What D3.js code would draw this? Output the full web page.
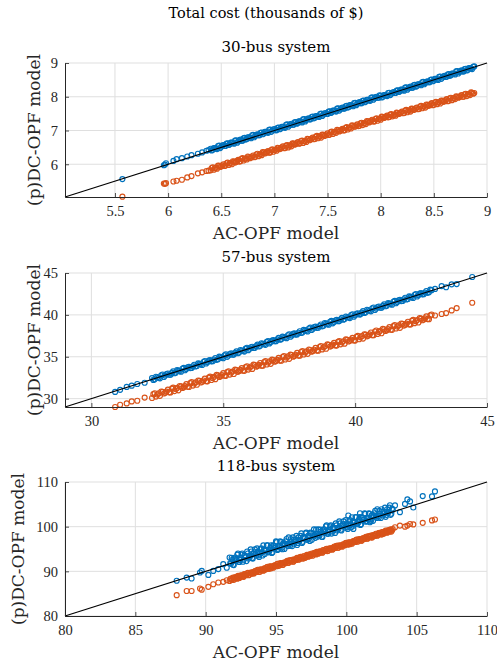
<!DOCTYPE html>
<html>
<head>
<meta charset="utf-8">
<script src="https://cdn.jsdelivr.net/npm/d3@7"></script>
<style>
  body { margin: 0; background: #fff; }
  .js-container { width: 497px; height: 667px; }
</style>
</head>
<body>
<div class="js-container"></div>
<script>
;(function() {
  'use strict';

  // ---- data: total cost in thousands of $, one point per load sample ----

  // 30-bus system
  var ac30 = [5.57,5.96,5.97,5.98,6.05,6.08,6.13,6.18,6.22,6.28,6.32,6.36,6.38,
    6.40,6.42,6.44,6.46,6.48,6.50,6.52,6.54,6.56,6.58,6.60,6.62,6.64,6.66,6.68,6.70,6.72,6.74,6.76,6.78,
    6.80,6.82,6.84,6.86,6.88,6.90,6.92,6.94,6.96,6.98,7.00,7.02,7.04,7.06,7.08,7.10,7.12,7.14,7.16,7.18,
    7.20,7.22,7.24,7.26,7.28,7.30,7.32,7.34,7.36,7.38,7.40,7.42,7.44,7.46,7.48,7.50,7.52,7.54,7.56,7.58,
    7.60,7.62,7.64,7.66,7.68,7.70,7.72,7.74,7.76,7.78,7.80,7.82,7.84,7.86,7.88,7.90,7.92,7.94,7.96,7.98,
    8.00,8.02,8.04,8.06,8.08,8.10,8.12,8.14,8.16,8.18,8.20,8.22,8.24,8.26,8.28,8.30,8.32,8.34,8.36,8.38,
    8.40,8.42,8.44,8.46,8.48,8.50,8.52,8.54,8.56,8.58,8.60,8.62,8.64,8.66,8.68,8.70,8.72,8.74,8.76,8.78,
    8.80,8.82,8.84,8.86,8.88,
    6.41,6.43,6.45,6.47,6.49,6.51,6.53,6.55,6.57,6.59,6.61,6.63,6.65,6.67,6.69,6.71,6.73,6.75,6.77,6.79,
    6.81,6.83,6.85,6.87,6.89,6.91,6.93,6.95,6.97,6.99,7.01,7.03,7.05,7.07,7.09,7.11,7.13,7.15,7.17,7.19,
    7.21,7.23,7.25,7.27,7.29,7.31,7.33,7.35,7.37,7.39,7.41,7.43,7.45,7.47,7.49,7.51,7.53,7.55,7.57,7.59,
    7.61,7.63,7.65,7.67,7.69,7.71,7.73,7.75,7.77,7.79,7.81,7.83,7.85,7.87,7.89,7.91,7.93,7.95,7.97,7.99,
    8.01,8.03,8.05,8.07,8.09,8.11,8.13,8.15,8.17,8.19,8.21,8.23,8.25,8.27,8.29,8.31,8.33,8.35,8.37,8.39,
    8.41,8.43,8.45,8.47,8.49,8.51,8.53,8.55,8.57,8.59,8.61,8.63,8.65,8.67,8.69,8.71,8.73,8.75,8.77,8.79,
    8.81,8.83,8.85,8.87];
  var pdc30 = [5.56,5.97,5.99,6.03,6.10,6.15,6.18,6.23,6.27,6.31,6.35,6.40,6.42,
    6.46,6.43,6.48,6.45,6.55,6.52,6.57,6.54,6.62,6.59,6.64,6.61,6.71,6.68,6.73,6.70,6.78,6.75,6.80,6.77,
    6.87,6.84,6.89,6.86,6.94,6.91,6.96,6.93,7.03,7.00,7.04,7.01,7.09,7.06,7.11,7.08,7.18,7.15,7.20,7.17,
    7.25,7.22,7.27,7.24,7.34,7.31,7.36,7.33,7.41,7.38,7.43,7.40,7.50,7.47,7.52,7.49,7.57,7.54,7.59,7.56,
    7.66,7.63,7.68,7.65,7.73,7.70,7.75,7.72,7.82,7.79,7.84,7.81,7.89,7.86,7.91,7.88,7.98,7.95,8.00,7.97,
    8.03,8.00,8.05,8.02,8.12,8.09,8.14,8.11,8.19,8.16,8.21,8.18,8.28,8.25,8.30,8.27,8.35,8.32,8.37,8.34,
    8.44,8.41,8.46,8.43,8.51,8.48,8.53,8.50,8.60,8.57,8.62,8.59,8.67,8.64,8.69,8.66,8.76,8.73,8.78,8.75,
    8.83,8.80,8.85,8.82,8.90,
    6.41,6.48,6.47,6.54,6.48,6.55,6.54,6.61,6.57,6.64,6.63,6.70,6.64,6.71,6.70,6.77,6.73,6.80,6.79,6.86,
    6.80,6.87,6.86,6.93,6.89,6.96,6.95,7.02,6.96,7.03,7.01,7.08,7.04,7.11,7.10,7.17,7.11,7.18,7.17,7.24,
    7.20,7.27,7.26,7.33,7.27,7.34,7.33,7.40,7.36,7.43,7.42,7.49,7.43,7.50,7.49,7.56,7.52,7.59,7.58,7.65,
    7.59,7.66,7.65,7.72,7.68,7.75,7.74,7.81,7.75,7.82,7.81,7.88,7.84,7.91,7.90,7.97,7.91,7.98,7.97,8.04,
    7.98,8.05,8.04,8.11,8.05,8.12,8.11,8.18,8.14,8.21,8.20,8.27,8.21,8.28,8.27,8.34,8.30,8.37,8.36,8.43,
    8.37,8.44,8.43,8.50,8.46,8.53,8.52,8.59,8.53,8.60,8.59,8.66,8.62,8.69,8.68,8.75,8.69,8.76,8.75,8.82,
    8.78,8.85,8.84,8.89];
  var dc30 = [5.04,5.43,5.42,5.44,5.49,5.51,5.54,5.61,5.65,5.73,5.76,5.80,5.81,
    5.82,5.91,5.89,5.87,5.95,5.94,6.00,5.96,6.05,6.03,6.00,6.08,6.07,6.13,6.09,6.18,6.16,6.14,6.21,6.20,
    6.26,6.22,6.31,6.29,6.27,6.35,6.34,6.39,6.35,6.44,6.42,6.40,6.48,6.47,6.53,6.48,6.57,6.55,6.53,6.61,
    6.60,6.66,6.62,6.70,6.68,6.66,6.74,6.73,6.79,6.75,6.84,6.82,6.79,6.87,6.86,6.92,6.88,6.97,6.95,6.93,
    7.00,6.99,7.05,7.01,7.10,7.08,7.06,7.14,7.12,7.18,7.14,7.23,7.21,7.19,7.27,7.26,7.32,7.27,7.36,7.34,
    7.32,7.40,7.39,7.44,7.40,7.49,7.46,7.44,7.52,7.51,7.56,7.52,7.61,7.59,7.56,7.64,7.63,7.68,7.64,7.73,
    7.71,7.68,7.76,7.75,7.81,7.76,7.85,7.83,7.80,7.88,7.87,7.93,7.88,7.97,7.95,7.93,8.00,7.99,8.05,8.00,
    8.09,8.07,8.05,8.12,8.11,
    5.89,5.84,5.90,5.96,5.92,5.97,5.95,6.03,5.98,6.04,6.09,6.05,6.10,6.08,6.16,6.11,6.17,6.23,6.18,6.23,
    6.21,6.29,6.24,6.30,6.36,6.32,6.37,6.34,6.42,6.37,6.43,6.49,6.45,6.50,6.48,6.55,6.50,6.56,6.62,6.58,
    6.63,6.61,6.69,6.63,6.69,6.75,6.71,6.76,6.74,6.82,6.77,6.83,6.88,6.84,6.89,6.87,6.95,6.90,6.96,7.02,
    6.97,7.02,7.00,7.08,7.03,7.09,7.15,7.11,7.15,7.13,7.21,7.16,7.22,7.28,7.24,7.29,7.27,7.34,7.29,7.35,
    7.41,7.37,7.41,7.39,7.47,7.42,7.47,7.53,7.49,7.53,7.51,7.59,7.54,7.59,7.65,7.61,7.66,7.63,7.71,7.66,
    7.71,7.77,7.73,7.78,7.75,7.83,7.78,7.84,7.89,7.85,7.90,7.87,7.95,7.90,7.96,8.01,7.97,8.02,8.00,8.07,
    8.02,8.08,8.13,8.09];

  // 57-bus system
  var ac57 = [30.9,31.09,31.34,31.53,31.74,32.02,
    32.3,32.4,32.5,32.6,32.7,32.8,32.9,33.0,33.1,33.2,33.3,33.4,33.5,33.6,33.7,33.8,33.9,34.0,34.1,34.2,
    34.3,34.4,34.5,34.6,34.7,34.8,34.9,35.0,35.1,35.2,35.3,35.4,35.5,35.6,35.7,35.8,35.9,36.0,36.1,36.2,
    36.3,36.4,36.5,36.6,36.7,36.8,36.9,37.0,37.1,37.2,37.3,37.4,37.5,37.6,37.7,37.8,37.9,38.0,38.1,38.2,
    38.3,38.4,38.5,38.6,38.7,38.8,38.9,39.0,39.1,39.2,39.3,39.4,39.5,39.6,39.7,39.8,39.9,40.0,40.1,40.2,
    40.3,40.4,40.5,40.6,40.7,40.8,40.9,41.0,41.1,41.2,41.3,41.4,41.5,41.6,41.7,41.8,41.9,42.0,42.1,42.2,
    42.3,42.4,42.5,42.6,42.7,42.8,42.9,
    43.03,43.28,43.45,43.66,43.85,44.44,
    32.35,32.45,32.55,32.65,32.75,32.85,32.95,33.05,33.15,33.25,33.35,33.45,33.55,33.65,33.75,33.85,33.95,34.05,34.15,34.25,
    34.35,34.45,34.55,34.65,34.75,34.85,34.95,35.05,35.15,35.25,35.35,35.45,35.55,35.65,35.75,35.85,35.95,36.05,36.15,36.25,
    36.35,36.45,36.55,36.65,36.75,36.85,36.95,37.05,37.15,37.25,37.35,37.45,37.55,37.65,37.75,37.85,37.95,38.05,38.15,38.25,
    38.35,38.45,38.55,38.65,38.75,38.85,38.95,39.05,39.15,39.25,39.35,39.45,39.55,39.65,39.75,39.85,39.95,40.05,40.15,40.25,
    40.35,40.45,40.55,40.65,40.75,40.85,40.95,41.05,41.15,41.25,41.35,41.45,41.55,41.65,41.75,41.85,41.95,42.05,42.15,42.25,
    42.35,42.45,42.55,42.65,42.75,42.85];
  var pdc57 = [30.8,31.05,31.4,31.55,31.75,31.9,
    32.45,32.30,32.55,32.42,32.88,32.75,33.00,32.86,33.25,33.10,33.35,33.22,33.68,33.55,33.80,33.66,34.05,33.90,34.15,34.02,
    34.48,34.35,34.60,34.46,34.85,34.70,34.95,34.82,35.28,35.15,35.40,35.26,35.65,35.50,35.75,35.62,36.08,35.95,36.20,36.06,
    36.45,36.30,36.55,36.42,36.88,36.75,37.00,36.86,37.25,37.10,37.35,37.22,37.68,37.55,37.80,37.66,38.05,37.90,38.15,38.02,
    38.48,38.35,38.60,38.46,38.85,38.70,38.95,38.82,39.28,39.15,39.40,39.26,39.65,39.50,39.75,39.62,40.08,39.95,40.20,40.06,
    40.45,40.30,40.55,40.42,40.88,40.75,41.00,40.86,41.25,41.10,41.35,41.22,41.68,41.55,41.80,41.66,42.05,41.90,42.15,42.02,
    42.48,42.35,42.60,42.46,42.85,42.70,42.95,
    43.1,43.44,43.3,43.65,43.68,44.52,
    32.23,32.61,32.49,32.77,32.59,32.93,32.85,33.07,33.03,33.41,33.29,33.57,33.39,33.73,33.65,33.87,33.83,34.21,34.09,34.37,
    34.19,34.53,34.45,34.67,34.63,35.01,34.89,35.17,34.99,35.33,35.25,35.47,35.43,35.81,35.69,35.97,35.79,36.13,36.05,36.27,
    36.23,36.61,36.49,36.77,36.59,36.93,36.85,37.07,37.03,37.41,37.29,37.57,37.39,37.73,37.65,37.87,37.83,38.21,38.09,38.37,
    38.19,38.53,38.45,38.67,38.63,39.01,38.89,39.17,38.99,39.33,39.25,39.47,39.43,39.81,39.69,39.97,39.79,40.13,40.05,40.27,
    40.23,40.61,40.49,40.77,40.59,40.93,40.85,41.07,41.03,41.41,41.29,41.57,41.39,41.73,41.65,41.87,41.83,42.21,42.09,42.37,
    42.19,42.53,42.45,42.67,42.63,43.01];
  var dc57 = [29.0,29.27,29.43,29.67,29.75,30.12,
    30.08,30.64,30.49,30.33,30.80,30.69,31.07,30.74,31.31,31.15,30.99,31.46,31.35,31.73,31.40,31.97,31.81,31.66,32.12,32.01,
    32.39,32.06,32.63,32.47,32.32,32.78,32.67,33.05,32.72,33.27,33.11,32.94,33.40,33.29,33.65,33.32,33.87,33.71,33.55,34.00,
    33.89,34.25,33.92,34.48,34.31,34.15,34.60,34.49,34.86,34.52,35.08,34.91,34.75,35.21,35.09,35.46,35.12,35.68,35.52,35.35,
    35.81,35.69,36.06,35.73,36.28,36.12,35.95,36.41,36.30,36.66,36.33,36.88,36.72,36.56,37.01,36.90,37.26,36.93,37.49,37.33,
    37.17,37.64,37.53,37.90,37.57,38.13,37.97,37.81,38.28,38.17,38.54,38.21,38.77,38.61,38.45,38.92,38.81,39.18,38.85,39.41,
    39.25,39.09,39.56,39.45,39.82,39.49,40.05,
    39.93,40.1,40.21,40.53,40.81,41.45,
    30.53,30.24,30.62,30.85,30.61,30.84,30.75,31.19,30.90,31.28,31.51,31.27,31.50,31.42,31.85,31.56,31.94,32.17,31.93,32.16,
    32.08,32.51,32.22,32.60,32.83,32.59,32.82,32.73,33.16,32.87,33.23,33.46,33.20,33.43,33.34,33.76,33.47,33.83,34.06,33.81,
    34.03,33.94,34.36,34.07,34.44,34.66,34.41,34.63,34.54,34.97,34.67,35.04,35.26,35.01,35.24,35.14,35.57,35.27,35.64,35.87,
    35.61,35.84,35.74,36.17,35.88,36.24,36.47,36.21,36.44,36.35,36.77,36.48,36.84,37.07,36.82,37.04,36.95,37.38,37.09,37.46,
    37.69,37.44,37.67,37.58,38.02,37.73,38.10,38.33,38.08,38.31,38.22,38.66,38.37,38.74,38.97,38.72,38.95,38.86,39.30,39.01,
    39.38,39.61,39.36,39.59,39.50,39.94];

  // 118-bus system
  var ac118 = [87.94,88.65,89.0,89.6,89.72,90.19,90.54,90.9,91.25,91.5,
    91.7,91.8,91.9,92.0,92.1,92.2,92.3,92.4,92.5,92.6,92.7,92.8,92.9,93.0,93.1,93.2,93.3,93.4,93.5,93.6,
    93.7,93.8,93.9,94.0,94.1,94.2,94.3,94.4,94.5,94.6,94.7,94.8,94.9,95.0,95.1,95.2,95.3,95.4,95.5,95.6,
    95.7,95.8,95.9,96.0,96.1,96.2,96.3,96.4,96.5,96.6,96.7,96.8,96.9,97.0,97.1,97.2,97.3,97.4,97.5,97.6,
    97.7,97.8,97.9,98.0,98.1,98.2,98.3,98.4,98.5,98.6,98.7,98.8,98.9,99.0,99.1,99.2,99.3,99.4,99.5,99.6,
    99.7,99.8,99.9,100.0,100.1,100.2,100.3,100.4,100.5,100.6,100.7,100.8,100.9,101.0,101.1,101.2,101.3,101.4,101.5,101.6,
    101.7,101.8,101.9,102.0,102.1,102.2,102.3,102.4,102.5,102.6,102.7,102.8,102.9,103.0,103.1,103.2,103.3,
    100.14,100.5,100.97,101.68,
    103.46,103.81,104.17,104.34,104.53,104.76,105.43,106.09,106.3,
    91.75,91.85,91.95,92.05,92.15,92.25,92.35,92.45,92.55,92.65,92.75,92.85,92.95,93.05,93.15,93.25,93.35,93.45,93.55,93.65,
    93.75,93.85,93.95,94.05,94.15,94.25,94.35,94.45,94.55,94.65,94.75,94.85,94.95,95.05,95.15,95.25,95.35,95.45,95.55,95.65,
    95.75,95.85,95.95,96.05,96.15,96.25,96.35,96.45,96.55,96.65,96.75,96.85,96.95,97.05,97.15,97.25,97.35,97.45,97.55,97.65,
    97.75,97.85,97.95,98.05,98.15,98.25,98.35,98.45,98.55,98.65,98.75,98.85,98.95,99.05,99.15,99.25,99.35,99.45,99.55,99.65,
    99.75,99.85,99.95,100.05,100.15,100.25,100.35,100.45,100.55,100.65,100.75,100.85,100.95,101.05,101.15,101.25,101.35,101.45,101.55,101.65,
    101.75,101.85,101.95,102.05,102.15,102.25,102.35,102.45,102.55,102.65,102.75,102.85,102.95,103.05,103.15,103.25];
  var pdc118 = [87.9,88.6,88.4,89.74,90.1,89.2,90.1,90.5,91.6,90.8,
    93.1,91.7,92.6,91.4,93.1,92.5,94.0,92.1,93.0,94.0,92.6,93.5,92.3,94.0,93.4,94.9,93.0,93.9,94.9,93.5,
    94.4,93.2,94.9,94.3,95.8,93.9,94.8,95.8,94.4,95.3,94.1,95.8,95.2,96.7,94.8,95.7,96.7,95.3,96.2,95.0,
    96.7,96.1,97.6,95.7,96.6,97.6,96.2,97.1,95.9,97.6,97.0,98.5,96.6,97.5,98.5,97.1,98.0,96.8,98.5,97.9,
    99.4,97.5,98.4,99.4,98.0,98.9,97.7,99.4,98.8,100.3,98.4,99.3,100.3,98.9,99.8,98.6,100.3,99.7,101.2,99.3,
    100.2,101.2,99.8,100.7,99.5,101.2,100.6,102.1,100.2,101.1,102.1,100.7,101.6,100.4,102.1,101.5,103.0,101.1,102.0,103.0,
    101.6,102.5,101.3,103.0,102.4,103.9,102.0,102.9,103.9,102.5,103.4,102.2,103.9,103.3,104.8,102.9,103.8,
    102.5,99.5,103.0,101.0,
    104.76,103.25,105.1,106.1,105.65,104.3,106.85,106.78,107.9,
    91.85,93.05,91.45,92.85,92.45,93.75,92.15,92.55,93.75,92.15,93.55,93.15,94.45,92.85,93.25,94.45,92.85,94.25,93.85,95.15,
    93.55,93.95,95.15,93.55,94.95,94.55,95.85,94.25,94.65,95.85,94.25,95.65,95.25,96.55,94.95,95.35,96.55,94.95,96.35,95.95,
    97.25,95.65,96.05,97.25,95.65,97.05,96.65,97.95,96.35,96.75,97.95,96.35,97.75,97.35,98.65,97.05,97.45,98.65,97.05,98.45,
    98.05,99.35,97.75,98.15,99.35,97.75,99.15,98.75,100.05,98.45,98.85,100.05,98.45,99.85,99.45,100.75,99.15,99.55,100.75,99.15,
    100.55,100.15,101.45,99.85,100.25,101.45,99.85,101.25,100.85,102.15,100.55,100.95,102.15,100.55,101.95,101.55,102.85,101.25,101.65,102.85,
    101.25,102.65,102.25,103.55,101.95,102.35,103.55,101.95,103.35,102.95,104.25,102.65,103.05,104.25,102.65,104.05];
  var dc118 = [84.66,85.6,85.6,86.15,85.9,86.53,87.1,87.5,87.65,88.0,
    87.86,88.40,88.30,88.10,88.64,88.49,88.97,88.53,89.08,88.98,88.77,89.32,89.16,89.64,89.21,89.75,89.65,89.45,89.99,89.84,
    90.32,89.88,90.43,90.33,90.12,90.67,90.52,90.99,90.56,91.11,91.00,90.80,91.34,91.19,91.67,91.23,91.78,91.68,91.47,92.02,
    91.87,92.34,91.91,92.46,92.35,92.15,92.70,92.54,93.02,92.59,93.13,93.03,92.82,93.37,93.22,93.69,93.26,93.81,93.70,93.50,
    94.05,93.89,94.37,93.94,94.48,94.38,94.18,94.72,94.57,95.05,94.61,95.16,95.05,94.85,95.40,95.24,95.72,95.29,95.83,95.73,
    95.53,96.07,95.92,96.40,95.96,96.51,96.41,96.20,96.75,96.60,97.07,96.64,97.18,97.08,96.88,97.42,97.27,97.75,97.31,97.86,
    97.76,97.55,98.10,97.95,98.42,97.99,98.54,98.43,98.23,98.78,98.62,99.10,98.66,99.21,99.11,98.90,99.45,
    96.25,96.6,97.0,97.75,
    99.87,100.25,100.0,100.25,100.6,100.5,100.85,101.4,101.6,
    88.27,88.07,88.60,88.39,88.74,88.36,88.78,88.73,89.05,88.84,89.37,89.17,89.51,89.13,89.56,89.50,89.82,89.62,90.14,89.94,
    90.28,89.90,90.33,90.27,90.59,90.39,90.91,90.71,91.06,90.67,91.10,91.05,91.36,91.16,91.69,91.48,91.83,91.44,91.87,91.82,
    92.13,91.93,92.46,92.25,92.60,92.22,92.64,92.59,92.91,92.70,93.23,93.03,93.37,92.99,93.42,93.36,93.68,93.48,94.00,93.80,
    94.14,93.76,94.19,94.13,94.45,94.25,94.77,94.57,94.92,94.53,94.96,94.91,95.22,95.02,95.55,95.34,95.69,95.31,95.73,95.68,
    95.99,95.79,96.32,96.11,96.46,96.08,96.50,96.45,96.77,96.56,97.09,96.89,97.23,96.85,97.28,97.22,97.54,97.34,97.86,97.66,
    98.00,97.62,98.05,97.99,98.31,98.11,98.63,98.43,98.78,98.39,98.82,98.77,99.08,98.88,99.41,99.20];

  var titles = ['30-bus system', '57-bus system', '118-bus system'];
  var limits30 = [5.03, 9], limits57 = [29, 45], limits118 = [80, 110];
  var xTicks30 = [5.5, 6, 6.5, 7, 7.5, 8, 8.5, 9], yTicks30 = [6, 7, 8, 9];
  var xTicks57 = [30, 35, 40, 45], yTicks57 = [30, 35, 40, 45];
  var xTicks118 = [80, 85, 90, 95, 100, 105, 110], yTicks118 = [80, 90, 100, 110];

  // ---- layout ----
  var W = 497, H = 667;
  var plotL = 65, plotR = 487, plotH = 134;
  var tops = [63, 273, 482];
  var yLabelX = [40, 40, 24];
  var blue = '#0072BD', orange = '#D95319', ink = '#262626', gridColor = '#dfdfdf';
  var labelFont = '"DejaVu Serif", serif', tickFont = '"Liberation Serif", serif';

  var panels = [
    { title: titles[0], ac: ac30, pdc: pdc30, dc: dc30, lim: limits30, xt: xTicks30, yt: yTicks30 },
    { title: titles[1], ac: ac57, pdc: pdc57, dc: dc57, lim: limits57, xt: xTicks57, yt: yTicks57 },
    { title: titles[2], ac: ac118, pdc: pdc118, dc: dc118, lim: limits118, xt: xTicks118, yt: yTicks118 }
  ];

  var svg = d3.select('.js-container').append('svg')
      .attr('width', W)
      .attr('height', H);

  svg.append('text')
      .attr('x', 266)
      .attr('y', 18)
      .attr('text-anchor', 'middle')
      .style('font-family', labelFont)
      .style('font-size', '14.5px')
      .attr('fill', '#000')
      .text('Total cost (thousands of $)');

  panels.forEach(function(p, i) {
    drawPanel(p, tops[i], yLabelX[i]);
  });

  /**
   * Draws one scatter panel: grid, both series, the y = x reference line,
   * axes and texts. top is the y pixel of the plot area's upper edge.
   */
  function drawPanel(p, top, labelX) {
    var bottom = top + plotH;
    var x = d3.scaleLinear().domain(p.lim).range([plotL, plotR]);
    var y = d3.scaleLinear().domain(p.lim).range([bottom, top]);
    var g = svg.append('g');

    // grid
    g.append('g').selectAll('line').data(p.xt).enter().append('line')
        .attr('x1', function(d) { return x(d); })
        .attr('x2', function(d) { return x(d); })
        .attr('y1', top).attr('y2', bottom)
        .attr('stroke', gridColor).attr('stroke-width', 1);
    g.append('g').selectAll('line').data(p.yt).enter().append('line')
        .attr('y1', function(d) { return y(d); })
        .attr('y2', function(d) { return y(d); })
        .attr('x1', plotL).attr('x2', plotR)
        .attr('stroke', gridColor).attr('stroke-width', 1);

    // series: pDC (blue) first, DC (orange) on top
    drawSeries(g, d3.zip(p.ac, p.pdc), x, y, blue);
    drawSeries(g, d3.zip(p.ac, p.dc), x, y, orange);

    // y = x reference
    g.append('line')
        .attr('x1', x(p.lim[0])).attr('y1', y(p.lim[0]))
        .attr('x2', x(p.lim[1])).attr('y2', y(p.lim[1]))
        .attr('stroke', '#000').attr('stroke-width', 1.1);

    // axes
    var xAxis = g.append('g')
        .attr('transform', 'translate(0,' + bottom + ')')
        .call(d3.axisBottom(x).tickValues(p.xt).tickSizeInner(-4).tickSizeOuter(0)
          .tickFormat(d3.format('')));
    var yAxis = g.append('g')
        .attr('transform', 'translate(' + plotL + ',0)')
        .call(d3.axisLeft(y).tickValues(p.yt).tickSizeInner(-4).tickSizeOuter(0)
          .tickFormat(d3.format('')));

    [xAxis, yAxis].forEach(function(a) {
      a.attr('font-family', null).attr('font-size', null);
      a.select('.domain').attr('stroke', ink).attr('stroke-width', 1);
      a.selectAll('.tick line').attr('stroke', ink).attr('stroke-width', 0.8);
      a.selectAll('.tick text')
          .attr('fill', ink)
          .style('font-family', tickFont)
          .style('font-size', '14.5px');
    });
    xAxis.selectAll('.tick text').attr('y', 19).attr('dy', null);
    yAxis.selectAll('.tick text').attr('x', -7).attr('dy', '0.33em');

    // texts
    g.append('text')
        .attr('x', (plotL + plotR) / 2)
        .attr('y', top - 11)
        .attr('text-anchor', 'middle')
        .style('font-family', labelFont)
        .style('font-size', '15px')
        .attr('fill', '#000')
        .text(p.title);

    g.append('text')
        .attr('x', (plotL + plotR) / 2)
        .attr('y', bottom + 42)
        .attr('text-anchor', 'middle')
        .style('font-family', labelFont)
        .style('font-size', '17px')
        .attr('fill', ink)
        .text('AC-OPF model');

    g.append('text')
        .attr('transform', 'translate(' + labelX + ',' + (top + plotH / 2) + ') rotate(-90)')
        .attr('text-anchor', 'middle')
        .style('font-family', labelFont)
        .style('font-size', '17px')
        .attr('fill', ink)
        .text('(p)DC-OPF model');
  }

  function drawSeries(g, pts, x, y, color) {
    g.append('g').selectAll('circle').data(pts).enter().append('circle')
        .attr('cx', function(d) { return x(d[0]); })
        .attr('cy', function(d) { return y(d[1]); })
        .attr('r', 2.5)
        .attr('fill', 'none')
        .attr('stroke', color)
        .attr('stroke-width', 1.15);
  }

}());
</script>
</body>
</html>
